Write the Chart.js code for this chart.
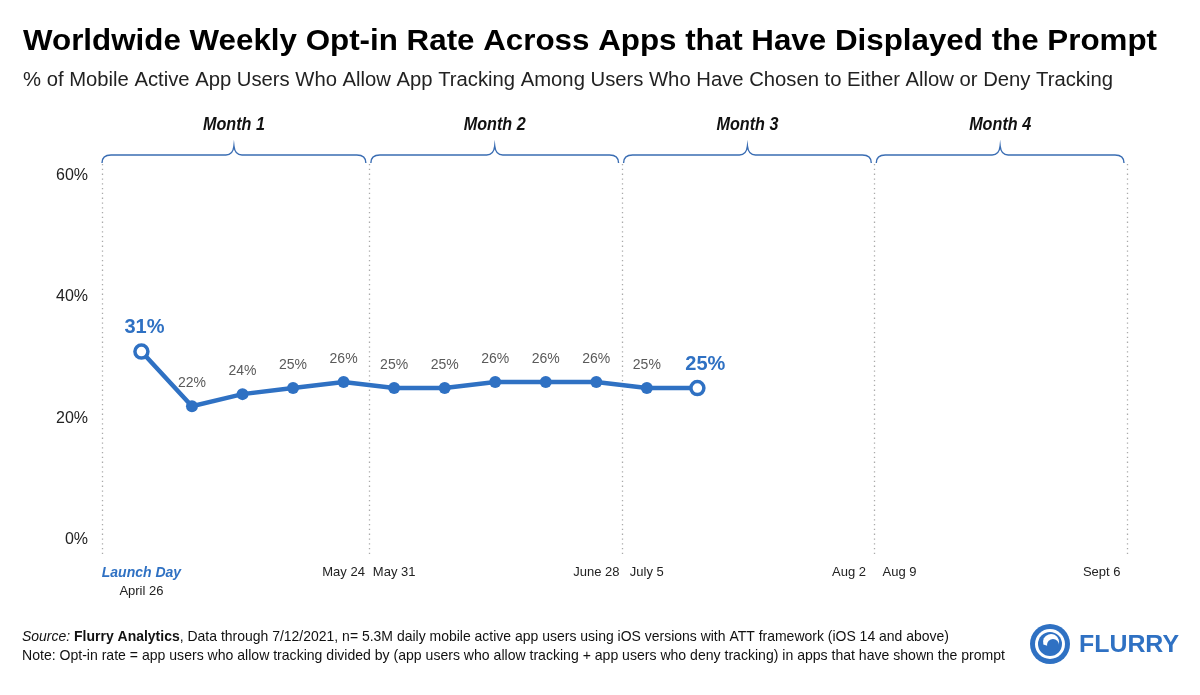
<!DOCTYPE html>
<html>
<head>
<meta charset="utf-8">
<script src="https://cdn.jsdelivr.net/npm/chart.js@4.4.0/dist/chart.umd.min.js"></script>
<style>
  html, body { margin: 0; padding: 0; background: #fff; }
  canvas { display: block; }
</style>
</head>
<body>
<canvas id="optinChart" width="1200" height="695"></canvas>
<script>
// weekly opt-in rate, week 0 = launch day (April 26)
var weekIndex = [0, 1, 2, 3, 4, 5, 6, 7, 8, 9, 10, 11];
var optInRate = [31, 22, 24, 25, 26, 25, 25, 26, 26, 26, 25, 25];

// x axis labels (by week index)
var tickWeeks = [0, 4, 5, 9, 10, 14, 15, 19];
var tickLabels = ["Launch Day", "May 24", "May 31", "June 28", "July 5", "Aug 2", "Aug 9", "Sept 6"];
var launchDate = "April 26";

// month brackets
var monthNames = ["Month 1", "Month 2", "Month 3", "Month 4"];
var monthEdges = [-0.78, 4.5, 9.5, 14.5, 19.5];

var yTicks = [0, 20, 40, 60];

var BLUE = "#2f71c3";
var FONT = "'Liberation Sans', Arial, sans-serif";

// draw text stretched/squeezed to a given width
function fitText(ctx, text, x, y, width) {
  var w = ctx.measureText(text).width;
  ctx.save();
  ctx.translate(x, y);
  ctx.scale(width / w, 1);
  ctx.fillText(text, 0, 0);
  ctx.restore();
}

// several styled pieces on one line, fitted to width
function fitPieces(ctx, pieces, x, y, width) {
  var total = 0;
  pieces.forEach(function (p) {
    ctx.font = p.font;
    p.w = ctx.measureText(p.text).width;
    total += p.w;
  });
  ctx.save();
  ctx.translate(x, y);
  ctx.scale(width / total, 1);
  var cx = 0;
  pieces.forEach(function (p) {
    ctx.font = p.font;
    ctx.fillText(p.text, cx, 0);
    cx += p.w;
  });
  ctx.restore();
}

var decor = {
  id: "decor",
  beforeDatasetsDraw: function (chart) {
    var ctx = chart.ctx, xs = chart.scales.x, area = chart.chartArea;
    // dotted month separators
    ctx.save();
    ctx.strokeStyle = "#aaaaaa";
    ctx.lineWidth = 1.3;
    ctx.setLineDash([1.3, 3.5]);
    monthEdges.forEach(function (e) {
      var x = Math.round(xs.getPixelForValue(e)) + 0.5;
      ctx.beginPath();
      ctx.moveTo(x, 164);
      ctx.lineTo(x, area.bottom);
      ctx.stroke();
    });
    ctx.restore();
  },
  afterDraw: function (chart) {
    var ctx = chart.ctx, xs = chart.scales.x, ys = chart.scales.y;
    ctx.save();

    // title + subtitle
    ctx.fillStyle = "#000";
    ctx.textAlign = "left";
    ctx.textBaseline = "alphabetic";
    ctx.font = "bold 30px " + FONT;
    fitText(ctx, "Worldwide Weekly Opt-in Rate Across Apps that Have Displayed the Prompt", 23, 50, 1134);
    ctx.fillStyle = "#222";
    ctx.font = "20px " + FONT;
    fitText(ctx, "% of Mobile Active App Users Who Allow App Tracking Among Users Who Have Chosen to Either Allow or Deny Tracking", 23, 86, 1090);

    // month braces
    var yb = 155;
    ctx.strokeStyle = "#3a6db3";
    ctx.lineWidth = 1.4;
    for (var i = 0; i < monthNames.length; i++) {
      var xl = xs.getPixelForValue(monthEdges[i]) + (i === 0 ? 0 : 2);
      var xr = xs.getPixelForValue(monthEdges[i + 1]) - 3;
      var xm = (xl + xr) / 2;
      ctx.beginPath();
      ctx.moveTo(xl, yb + 8);
      ctx.quadraticCurveTo(xl, yb, xl + 9, yb);
      ctx.lineTo(xm - 8, yb);
      ctx.quadraticCurveTo(xm - 1, yb, xm, yb - 9);
      ctx.quadraticCurveTo(xm + 1, yb, xm + 8, yb);
      ctx.lineTo(xr - 9, yb);
      ctx.quadraticCurveTo(xr, yb, xr, yb + 8);
      ctx.stroke();

      ctx.fillStyle = "#111";
      ctx.font = "italic bold 18px " + FONT;
      ctx.textAlign = "left";
      ctx.textBaseline = "middle";
      fitText(ctx, monthNames[i], xm - 31, 125, 62);
    }

    // value labels
    var last = optInRate.length - 1;
    ctx.textBaseline = "middle";
    ctx.textAlign = "center";
    optInRate.forEach(function (v, i) {
      var px = xs.getPixelForValue(weekIndex[i]);
      var py = ys.getPixelForValue(v);
      if (i === 0 || i === last) {
        ctx.fillStyle = BLUE;
        ctx.font = "bold 20px " + FONT;
        ctx.fillText(v + "%", px + (i === 0 ? 3 : 8), py - 24);
      } else {
        ctx.fillStyle = "#5a5a5a";
        ctx.font = "14px " + FONT;
        ctx.fillText(v + "%", px, py - 23);
      }
    });

    // date under "Launch Day"
    ctx.fillStyle = "#222";
    ctx.font = "13px " + FONT;
    ctx.fillText(launchDate, xs.getPixelForValue(tickWeeks[0]), 591);

    // footer
    ctx.textAlign = "left";
    ctx.textBaseline = "alphabetic";
    ctx.fillStyle = "#111";
    fitPieces(ctx, [
      { text: "Source: ", font: "italic 15px " + FONT },
      { text: "Flurry Analytics", font: "bold 15px " + FONT },
      { text: ", Data through 7/12/2021, n= 5.3M daily mobile active app users using iOS versions with ATT framework (iOS 14 and above)", font: "15px " + FONT }
    ], 22, 641, 927);
    ctx.font = "15px " + FONT;
    fitText(ctx, "Note: Opt-in rate = app users who allow tracking divided by (app users who allow tracking + app users who deny tracking) in apps that have shown the prompt", 22, 660, 983);

    // flurry logo
    var lx = 1050, ly = 644;
    ctx.fillStyle = BLUE;
    ctx.beginPath(); ctx.arc(lx, ly, 20, 0, Math.PI * 2); ctx.fill();
    ctx.fillStyle = "#fff";
    ctx.beginPath(); ctx.arc(lx, ly, 15, 0, Math.PI * 2); ctx.fill();
    ctx.fillStyle = BLUE;
    ctx.beginPath(); ctx.arc(lx, ly, 12, 0, Math.PI * 2); ctx.fill();
    ctx.fillStyle = "#fff";
    ctx.beginPath(); ctx.arc(lx + 1, ly - 2, 8, Math.PI * 0.9, Math.PI * 2.3); ctx.fill();
    ctx.fillStyle = BLUE;
    ctx.beginPath(); ctx.arc(lx + 3, ly + 1, 6, 0, Math.PI * 2); ctx.fill();
    ctx.font = "900 23px " + FONT;
    ctx.textBaseline = "middle";
    fitText(ctx, "FLURRY", 1079, 646, 100);

    ctx.restore();
  }
};

var ctx = document.getElementById("optinChart").getContext("2d");

var points = weekIndex.map(function (w, i) {
  return { x: w, y: optInRate[i] };
});

function isEnd(c) {
  return c.dataIndex === 0 || c.dataIndex === optInRate.length - 1;
}

var myChart = new Chart(ctx, {
  type: "line",
  data: {
    datasets: [
      {
        data: points,
        borderColor: BLUE,
        borderWidth: 4.5,
        pointRadius: function (c) { return isEnd(c) ? 6.5 : 6; },
        pointBackgroundColor: function (c) { return isEnd(c) ? "#fff" : BLUE; },
        pointBorderColor: BLUE,
        pointBorderWidth: function (c) { return isEnd(c) ? 3.5 : 0; },
        tension: 0,
        fill: false
      }
    ]
  },
  options: {
    responsive: false,
    animation: false,
    layout: { padding: { top: 165, right: 73, bottom: 0, left: 0 } },
    plugins: {
      legend: { display: false },
      tooltip: { enabled: false }
    },
    scales: {
      x: {
        type: "linear",
        min: monthEdges[0],
        max: monthEdges[monthEdges.length - 1],
        grid: { display: false, drawTicks: false },
        border: { display: false },
        afterBuildTicks: function (scale) {
          scale.ticks = tickWeeks.map(function (w) { return { value: w }; });
        },
        afterFit: function (scale) { scale.height = 140; },
        ticks: {
          autoSkip: false,
          maxRotation: 0,
          padding: 10,
          color: function (c) { return c.index === 0 ? BLUE : "#222"; },
          font: function (c) {
            return c.index === 0
              ? { family: FONT, size: 14, weight: "bold", style: "italic" }
              : { family: FONT, size: 13 };
          },
          callback: function (value, index) { return tickLabels[index]; }
        }
      },
      y: {
        min: -2.47,
        max: 61.7,
        grid: { display: false, drawTicks: false },
        border: { display: false },
        afterBuildTicks: function (scale) {
          scale.ticks = yTicks.map(function (v) { return { value: v }; });
        },
        afterFit: function (scale) { scale.width = 102; },
        ticks: {
          padding: 14,
          color: "#222",
          font: { family: FONT, size: 16 },
          callback: function (value) { return value + "%"; }
        }
      }
    }
  },
  plugins: [decor]
});
</script>
</body>
</html>
